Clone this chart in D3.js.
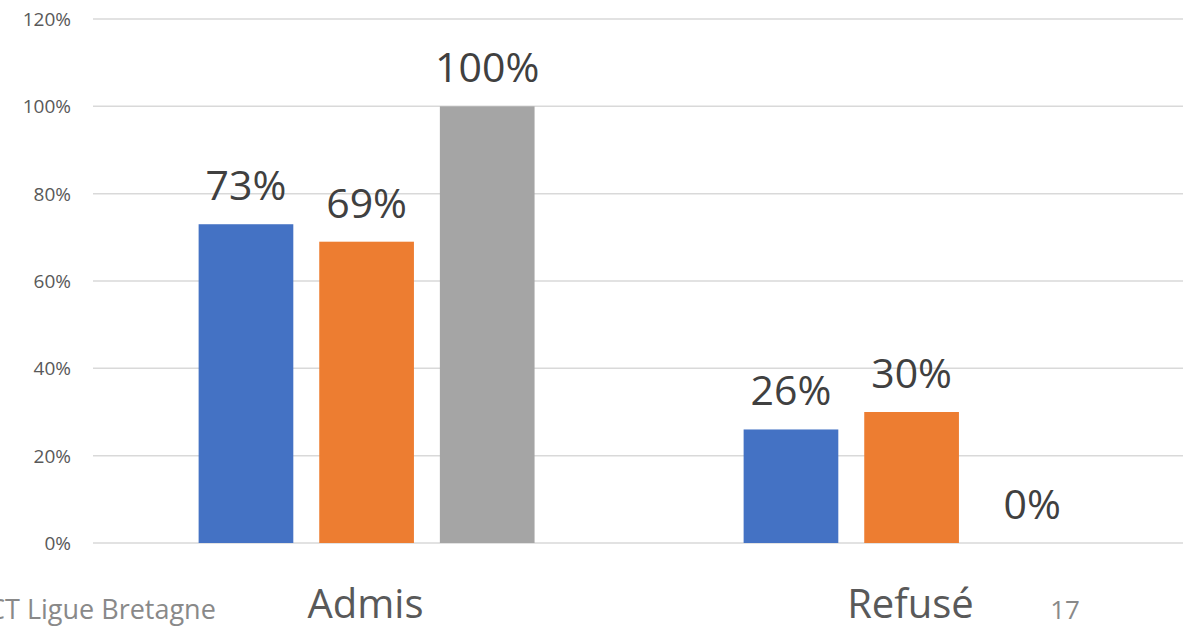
<!DOCTYPE html>
<html>
<head>
<meta charset="utf-8">
<script src="https://cdn.jsdelivr.net/npm/d3@7"></script>
<style>
  body { margin: 0; background: #fff; }
  svg { display: block; font-family: "Open Sans", sans-serif; }
</style>
</head>
<body>
<svg id="chart" width="1190" height="628"></svg>
<script>
// data
var categories = ["Admis", "Refusé"];
var series = ["Série 1", "Série 2", "Série 3"];
var values = [
  [0.73, 0.69, 1.00],   // Admis
  [0.26, 0.30, 0.00]    // Refusé
];
var yTicks = [0, 0.2, 0.4, 0.6, 0.8, 1.0, 1.2];
var colors = ["#4472C4", "#ED7D31", "#A5A5A5"];

var svg = d3.select("#chart");
var plotLeft = 93, plotRight = 1183, plotTop = 19, plotBottom = 543;

var y = d3.scaleLinear().domain([0, 1.2]).range([plotBottom, plotTop]);
var x0 = d3.scaleBand().domain(categories).range([plotLeft, plotRight]);
var x1 = d3.scaleBand().domain(series)
    .range([x0.bandwidth() * 0.17, x0.bandwidth() * 0.834])
    .paddingInner(0.215).paddingOuter(0.1075);

// gridlines
svg.append("g").selectAll("line").data(yTicks).join("line")
    .attr("x1", plotLeft).attr("x2", plotRight)
    .attr("y1", d => y(d)).attr("y2", d => y(d))
    .attr("stroke", "#D9D9D9").attr("stroke-width", 1.5);

// y axis labels
svg.append("g").selectAll("text").data(yTicks).join("text")
    .attr("x", 71).attr("y", d => y(d) + 7)
    .attr("text-anchor", "end")
    .attr("font-size", 19).attr("fill", "#595959")
    .text(d => d3.format(".0%")(d));

// bars
var groups = svg.append("g").selectAll("g").data(categories).join("g")
    .attr("transform", d => "translate(" + x0(d) + ",0)");

groups.selectAll("rect")
    .data((c, i) => series.map((s, j) => ({ s: s, v: values[i][j], j: j })))
    .join("rect")
    .attr("x", d => x1(d.s))
    .attr("width", x1.bandwidth())
    .attr("y", d => y(d.v))
    .attr("height", d => plotBottom - y(d.v))
    .attr("fill", d => colors[d.j]);

groups.selectAll("text")
    .data((c, i) => series.map((s, j) => ({ s: s, v: values[i][j], j: j })))
    .join("text")
    .attr("x", d => x1(d.s) + x1.bandwidth() / 2)
    .attr("y", d => y(d.v) - 24)
    .attr("text-anchor", "middle")
    .attr("font-size", 41).attr("fill", "#404040")
    .text(d => d3.format(".0%")(d.v));

// category labels
svg.append("g").selectAll("text").data(categories).join("text")
    .attr("x", d => x0(d) + x0.bandwidth() / 2)
    .attr("y", 618)
    .attr("text-anchor", "middle")
    .attr("font-size", 40).attr("fill", "#595959")
    .text(d => d);

// slide footer
svg.append("text").attr("x", -12).attr("y", 619)
    .attr("font-size", 27).attr("fill", "#898989")
    .text("CT Ligue Bretagne");
svg.append("text").attr("x", 1065).attr("y", 619)
    .attr("text-anchor", "middle")
    .attr("font-size", 26).attr("fill", "#898989")
    .text("17");
</script>
</body>
</html>
